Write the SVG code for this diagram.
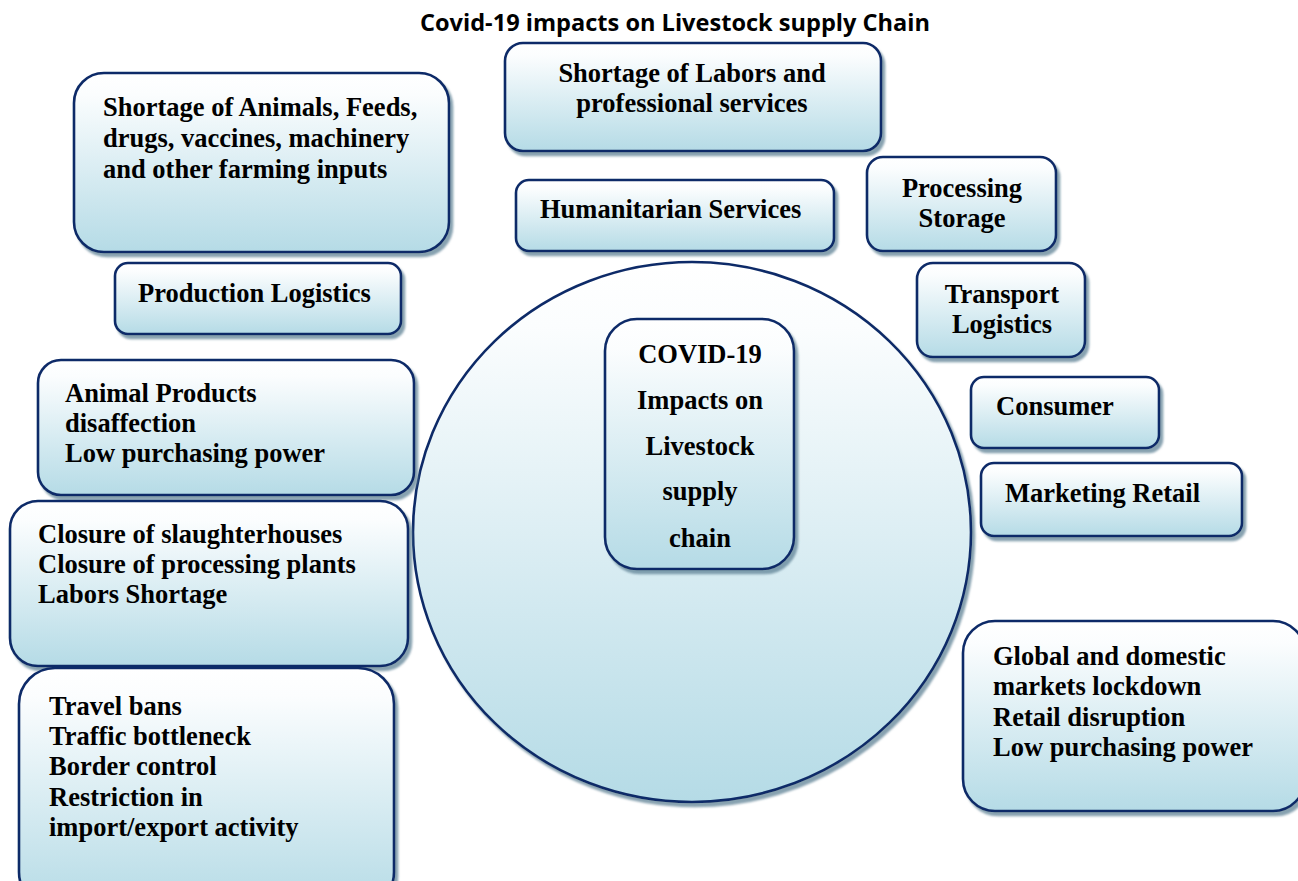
<svg xmlns="http://www.w3.org/2000/svg" width="1298" height="881" viewBox="0 0 1298 881">
  <defs>
    <linearGradient id="fillGrad" x1="0" y1="0" x2="0" y2="1">
      <stop offset="0" stop-color="#ffffff"/>
      <stop offset="0.12" stop-color="#fbfdfe"/>
      <stop offset="1" stop-color="#b5dbe6"/>
    </linearGradient>
    <filter id="shadow" x="-10%" y="-10%" width="125%" height="125%">
      <feDropShadow dx="3" dy="4" stdDeviation="1" flood-color="#5f8396" flood-opacity="0.75"/>
    </filter>
  </defs>
  <style>
    .box { fill: url(#fillGrad); stroke: #102c68; stroke-width: 2.6; filter: url(#shadow); }
    .t { font-family: "Liberation Serif", "Times New Roman", serif; font-weight: bold; font-size: 26.5px; fill: #000; }
    .c { text-anchor: middle; }
    .title { font-family: "Open Sans", "Noto Sans", sans-serif; font-weight: bold; font-size: 23px; fill: #000; }
  </style>
  <rect width="1298" height="881" fill="#ffffff"/>

  <text class="title" x="420" y="31" textLength="510" lengthAdjust="spacingAndGlyphs">Covid-19 impacts on Livestock supply Chain</text>

  <g id="connectors"/>

  <g id="circle-hub">
    <ellipse class="box" cx="692" cy="532" rx="279" ry="270"/>
  </g>

  <g id="node-center">
    <rect class="box" x="605" y="319" width="189" height="250" rx="32"/>
    <text class="t c" x="700" y="363">COVID-19</text>
    <text class="t c" x="700" y="409">Impacts on</text>
    <text class="t c" x="700" y="455">Livestock</text>
    <text class="t c" x="700" y="500">supply</text>
    <text class="t c" x="700" y="547">chain</text>
  </g>

  <g id="node-shortage-animals">
    <rect class="box" x="74" y="73" width="375" height="179" rx="30"/>
    <text class="t" x="103" y="116">Shortage of Animals, Feeds,</text>
    <text class="t" x="103" y="147">drugs, vaccines, machinery</text>
    <text class="t" x="103" y="178">and other farming inputs</text>
  </g>

  <g id="node-production-logistics">
    <rect class="box" x="115" y="263" width="286" height="71" rx="13"/>
    <text class="t" x="138" y="302">Production Logistics</text>
  </g>

  <g id="node-shortage-labors">
    <rect class="box" x="505" y="43" width="376" height="108" rx="18"/>
    <text class="t c" x="692" y="82">Shortage of Labors and</text>
    <text class="t c" x="692" y="112">professional services</text>
  </g>

  <g id="node-humanitarian">
    <rect class="box" x="516" y="180" width="318" height="71" rx="13"/>
    <text class="t" x="540" y="218">Humanitarian Services</text>
  </g>

  <g id="node-processing">
    <rect class="box" x="867" y="157" width="189" height="94" rx="16"/>
    <text class="t c" x="962" y="197">Processing</text>
    <text class="t c" x="962" y="227">Storage</text>
  </g>

  <g id="node-transport">
    <rect class="box" x="917" y="263" width="168" height="94" rx="16"/>
    <text class="t c" x="1002" y="303">Transport</text>
    <text class="t c" x="1002" y="333">Logistics</text>
  </g>

  <g id="node-consumer">
    <rect class="box" x="971" y="377" width="188" height="71" rx="13"/>
    <text class="t" x="996" y="415">Consumer</text>
  </g>

  <g id="node-marketing">
    <rect class="box" x="981" y="463" width="261" height="73" rx="13"/>
    <text class="t" x="1005" y="502">Marketing Retail</text>
  </g>

  <g id="node-animal-products">
    <rect class="box" x="38" y="360" width="376" height="135" rx="23"/>
    <text class="t" x="65" y="402">Animal Products</text>
    <text class="t" x="65" y="432">disaffection</text>
    <text class="t" x="65" y="462">Low purchasing power</text>
  </g>

  <g id="node-closure">
    <rect class="box" x="10" y="501" width="398" height="165" rx="28"/>
    <text class="t" x="38" y="543">Closure of slaughterhouses</text>
    <text class="t" x="38" y="573">Closure of processing plants</text>
    <text class="t" x="38" y="603">Labors Shortage</text>
  </g>

  <g id="node-travel">
    <rect class="box" x="19" y="668" width="375" height="240" rx="36"/>
    <text class="t" x="49" y="715">Travel bans</text>
    <text class="t" x="49" y="745">Traffic bottleneck</text>
    <text class="t" x="49" y="775">Border control</text>
    <text class="t" x="49" y="806">Restriction in</text>
    <text class="t" x="49" y="836">import/export activity</text>
  </g>

  <g id="node-global">
    <rect class="box" x="963" y="621" width="342" height="190" rx="32"/>
    <text class="t" x="993" y="665">Global and domestic</text>
    <text class="t" x="993" y="695">markets lockdown</text>
    <text class="t" x="993" y="726">Retail disruption</text>
    <text class="t" x="993" y="756">Low purchasing power</text>
  </g>
</svg>
